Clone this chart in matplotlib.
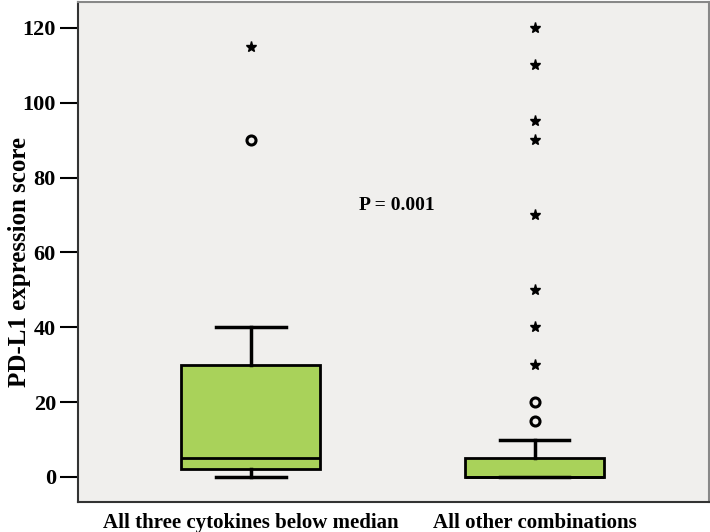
import numpy as np
import matplotlib
matplotlib.use("Agg")
import matplotlib.pyplot as plt

plt.rcParams['font.family'] = ['Liberation Serif', 'DejaVu Serif']
plt.rcParams['font.weight'] = 'bold'

# groups
groups = ["All three cytokines below median", "All other combinations"]

# box summaries
q1 = [2, 0]
med = [5, 0]
q3 = [30, 5]
whis_lo = [0, 0]
whis_hi = [40, 10]

# outliers (circles) and extremes (asterisks)
outliers = [[90], [15, 20]]
extremes = [[115], [30, 40, 50, 70, 90, 95, 110, 120]]

p_text = "P = 0.001"

stats = []
for i in range(len(groups)):
    stats.append(dict(med=med[i], q1=q1[i], q3=q3[i],
                      whislo=whis_lo[i], whishi=whis_hi[i], fliers=[]))

fig = plt.figure(figsize=(7.1, 5.32), dpi=100)
ax = fig.add_axes([0.11, 0.057, 0.888, 0.94])
ax.set_facecolor("#f0efed")

pos = [1, 2]
ax.bxp(stats, positions=pos, widths=0.49, patch_artist=True, showfliers=False,
       boxprops=dict(facecolor="#a9d25a", edgecolor="black", linewidth=2),
       medianprops=dict(color="black", linewidth=2),
       whiskerprops=dict(color="black", linewidth=2.5),
       capprops=dict(color="black", linewidth=2.5),
       capwidths=0.245)

for i in range(len(groups)):
    ax.plot([pos[i]] * len(outliers[i]), outliers[i], 'o', ms=6.5,
            mfc="none", mec="black", mew=2.2, zorder=5)
    ax.plot([pos[i]] * len(extremes[i]), extremes[i], '*', ms=8,
            color="black", zorder=5)

ax.text(1.514, 72.6, p_text, ha="center", va="center", fontsize=14,
        fontweight="bold")

ax.set_xlim(0.391, 2.613)
ax.set_ylim(-6.6, 127)
ax.set_yticks([0, 20, 40, 60, 80, 100, 120])
ax.set_xticks(pos)
ax.set_xticklabels(groups)
ax.tick_params(axis='y', length=13, width=1.5, labelsize=16, pad=3)
ax.tick_params(axis='x', length=0, labelsize=15, pad=8)
ax.set_ylabel("PD-L1 expression score", fontsize=18, fontweight="bold")
ax.yaxis.set_label_coords(-0.074, 0.48)

for s in ["left", "bottom"]:
    ax.spines[s].set_color("#333333")
    ax.spines[s].set_linewidth(1.5)
for s in ["top", "right"]:
    ax.spines[s].set_color("#888888")
    ax.spines[s].set_linewidth(1.5)

fig.savefig("out.png", dpi=100)
